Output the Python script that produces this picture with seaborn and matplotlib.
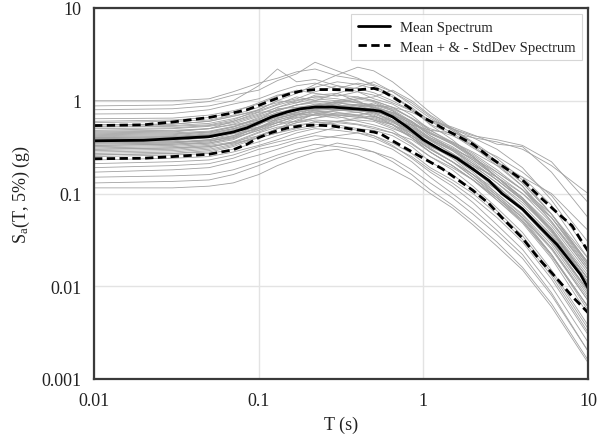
import numpy as np
import pandas as pd
import matplotlib
matplotlib.use("Agg")
import matplotlib.pyplot as plt
import seaborn as sns

# ---------------- data ----------------
T_stat = [0.01, 0.02, 0.03, 0.05, 0.07, 0.085, 0.1, 0.12, 0.15, 0.18, 0.22, 0.28, 0.38, 0.5,
          0.55, 0.65, 0.8, 1.0, 1.3, 1.6, 2.0, 2.5, 3.0, 4.0, 5.0, 6.5, 8.0, 9.0, 10.0]
mean_sa = [0.37, 0.375, 0.39, 0.41, 0.46, 0.51, 0.58, 0.67, 0.76, 0.82, 0.855, 0.855, 0.82, 0.79,
           0.77, 0.67, 0.52, 0.38, 0.29, 0.24, 0.183, 0.138, 0.10, 0.068, 0.045, 0.028, 0.0175, 0.0134, 0.0096]
upper_sa = [0.54, 0.55, 0.59, 0.66, 0.74, 0.80, 0.89, 1.01, 1.17, 1.27, 1.32, 1.32, 1.30, 1.36,
            1.30, 1.10, 0.87, 0.66, 0.51, 0.42, 0.34, 0.25, 0.20, 0.14, 0.095, 0.062, 0.045, 0.032, 0.024]
lower_sa = [0.237, 0.24, 0.25, 0.265, 0.296, 0.34, 0.40, 0.455, 0.51, 0.535, 0.547, 0.535, 0.49, 0.46,
            0.44, 0.37, 0.3, 0.24, 0.185, 0.143, 0.108, 0.078, 0.055, 0.033, 0.02, 0.012, 0.0078, 0.0063, 0.0052]

T_rec = [0.01, 0.03, 0.05, 0.07, 0.1, 0.13, 0.17, 0.22, 0.3, 0.4, 0.5, 0.65, 0.85, 1.1, 1.5, 2.0,
         2.8, 4.0, 6.0, 10.0]
rec01 = [1.00, 1.00, 1.05, 1.25, 1.55, 1.75, 2.05, 2.2, 1.85, 1.7, 1.5, 1.25, 0.95, 0.68, 0.48, 0.33, 0.21, 0.12, 0.05, 0.016]
rec02 = [0.88, 0.9, 0.98, 1.15, 1.3, 1.65, 1.95, 2.6, 2.1, 1.75, 1.45, 1.15, 0.82, 0.55, 0.38, 0.25, 0.15, 0.085, 0.038, 0.011]
rec03 = [0.80, 0.82, 0.88, 1.0, 1.45, 2.2, 1.6, 1.7, 1.45, 1.25, 1.15, 0.95, 0.78, 0.62, 0.5, 0.4, 0.3, 0.19, 0.085, 0.024]
rec04 = [0.72, 0.73, 0.8, 0.92, 1.05, 1.25, 1.45, 1.55, 1.35, 1.55, 1.45, 1.1, 0.82, 0.56, 0.43, 0.31, 0.22, 0.15, 0.075, 0.02]
rec05 = [0.64, 0.65, 0.7, 0.78, 0.92, 1.12, 1.3, 1.2, 1.12, 1.25, 1.05, 0.92, 0.7, 0.48, 0.35, 0.25, 0.15, 0.088, 0.04, 0.011]
rec06 = [0.58, 0.6, 0.62, 0.7, 0.85, 0.95, 1.05, 1.25, 1.45, 1.35, 1.22, 1.0, 0.78, 0.62, 0.52, 0.43, 0.34, 0.32, 0.17, 0.055]
rec07 = [0.55, 0.56, 0.6, 0.68, 0.78, 0.92, 1.1, 1.0, 0.95, 1.05, 1.1, 1.3, 1.0, 0.7, 0.5, 0.36, 0.24, 0.14, 0.06, 0.018]
rec08 = [0.52, 0.53, 0.55, 0.62, 0.8, 1.0, 0.95, 1.15, 1.2, 0.98, 0.85, 0.7, 0.5, 0.33, 0.24, 0.16, 0.095, 0.055, 0.022, 0.0055]
rec09 = [0.48, 0.5, 0.53, 0.58, 0.7, 0.85, 1.0, 1.1, 1.05, 0.95, 0.9, 0.82, 0.65, 0.5, 0.42, 0.33, 0.25, 0.17, 0.095, 0.03]
rec10 = [0.45, 0.46, 0.5, 0.6, 0.75, 0.78, 0.9, 0.95, 0.88, 0.85, 0.95, 0.78, 0.55, 0.38, 0.27, 0.19, 0.12, 0.07, 0.03, 0.009]
rec11 = [0.43, 0.44, 0.46, 0.52, 0.62, 0.82, 0.85, 0.8, 0.95, 1.0, 0.82, 0.62, 0.45, 0.32, 0.25, 0.17, 0.1, 0.058, 0.026, 0.007]
rec12 = [0.41, 0.42, 0.45, 0.5, 0.6, 0.68, 0.75, 0.88, 0.92, 0.8, 0.75, 0.7, 0.58, 0.44, 0.36, 0.28, 0.2, 0.15, 0.1, 0.04]
rec13 = [0.39, 0.4, 0.42, 0.48, 0.55, 0.7, 0.82, 0.78, 0.72, 0.75, 0.7, 0.55, 0.4, 0.28, 0.2, 0.14, 0.085, 0.048, 0.02, 0.005]
rec14 = [0.37, 0.38, 0.4, 0.45, 0.58, 0.62, 0.7, 0.8, 0.85, 0.9, 0.85, 0.75, 0.6, 0.42, 0.3, 0.21, 0.14, 0.085, 0.042, 0.013]
rec15 = [0.36, 0.36, 0.37, 0.4, 0.48, 0.55, 0.6, 0.72, 0.8, 0.75, 0.68, 0.58, 0.48, 0.38, 0.3, 0.24, 0.17, 0.11, 0.06, 0.02]
rec16 = [0.34, 0.35, 0.38, 0.44, 0.5, 0.65, 0.72, 0.7, 0.65, 0.7, 0.75, 0.6, 0.42, 0.3, 0.22, 0.15, 0.09, 0.05, 0.021, 0.006]
rec17 = [0.32, 0.33, 0.35, 0.4, 0.52, 0.58, 0.6, 0.65, 0.7, 0.68, 0.62, 0.55, 0.45, 0.34, 0.25, 0.2, 0.13, 0.08, 0.04, 0.012]
rec18 = [0.30, 0.31, 0.33, 0.36, 0.42, 0.5, 0.62, 0.72, 0.68, 0.6, 0.55, 0.48, 0.35, 0.25, 0.18, 0.12, 0.07, 0.038, 0.015, 0.0038]
rec19 = [0.29, 0.3, 0.32, 0.35, 0.45, 0.52, 0.55, 0.58, 0.6, 0.62, 0.6, 0.5, 0.42, 0.33, 0.27, 0.2, 0.15, 0.1, 0.055, 0.018]
rec20 = [0.27, 0.28, 0.3, 0.34, 0.4, 0.45, 0.52, 0.6, 0.55, 0.5, 0.48, 0.42, 0.32, 0.22, 0.16, 0.11, 0.065, 0.035, 0.014, 0.0035]
rec21 = [0.25, 0.26, 0.27, 0.3, 0.36, 0.42, 0.48, 0.52, 0.58, 0.55, 0.5, 0.45, 0.38, 0.28, 0.2, 0.14, 0.09, 0.052, 0.022, 0.006]
rec22 = [0.23, 0.24, 0.25, 0.28, 0.33, 0.38, 0.45, 0.5, 0.48, 0.45, 0.42, 0.35, 0.27, 0.19, 0.14, 0.1, 0.06, 0.032, 0.013, 0.0032]
rec23 = [0.21, 0.22, 0.23, 0.26, 0.32, 0.36, 0.4, 0.45, 0.52, 0.48, 0.42, 0.33, 0.24, 0.17, 0.12, 0.08, 0.046, 0.025, 0.01, 0.0025]
rec24 = [0.19, 0.2, 0.21, 0.24, 0.3, 0.33, 0.38, 0.42, 0.4, 0.38, 0.36, 0.3, 0.22, 0.15, 0.1, 0.068, 0.04, 0.022, 0.0085, 0.002]
rec25 = [0.17, 0.18, 0.19, 0.22, 0.26, 0.3, 0.35, 0.38, 0.42, 0.45, 0.4, 0.32, 0.25, 0.18, 0.13, 0.09, 0.055, 0.03, 0.012, 0.003]
rec26 = [0.15, 0.155, 0.16, 0.18, 0.22, 0.26, 0.3, 0.34, 0.32, 0.3, 0.28, 0.22, 0.16, 0.11, 0.075, 0.05, 0.03, 0.016, 0.0065, 0.0016]
rec27 = [0.13, 0.135, 0.14, 0.16, 0.2, 0.24, 0.28, 0.3, 0.35, 0.32, 0.28, 0.24, 0.18, 0.13, 0.09, 0.06, 0.036, 0.02, 0.008, 0.002]
rec28 = [0.115, 0.115, 0.12, 0.13, 0.16, 0.2, 0.24, 0.28, 0.3, 0.26, 0.22, 0.18, 0.14, 0.1, 0.07, 0.046, 0.027, 0.015, 0.006, 0.0015]
rec29 = [0.4, 0.41, 0.43, 0.46, 0.52, 0.6, 0.66, 0.72, 0.78, 0.85, 0.9, 0.85, 0.75, 0.6, 0.5, 0.42, 0.38, 0.33, 0.22, 0.08]
rec30 = [0.3, 0.31, 0.32, 0.35, 0.4, 0.45, 0.5, 0.55, 0.6, 0.65, 0.68, 0.6, 0.55, 0.48, 0.45, 0.4, 0.36, 0.3, 0.2, 0.1]
rec31 = [0.6, 0.62, 0.66, 0.75, 0.95, 1.15, 1.25, 1.4, 1.6, 1.5, 1.35, 1.1, 0.85, 0.6, 0.45, 0.32, 0.2, 0.12, 0.055, 0.016]
rec32 = [0.47, 0.48, 0.5, 0.56, 0.68, 0.8, 0.9, 1.0, 1.2, 1.4, 1.6, 1.25, 0.9, 0.65, 0.48, 0.35, 0.22, 0.13, 0.06, 0.017]
rec33 = [0.35, 0.36, 0.38, 0.42, 0.5, 0.58, 0.7, 0.85, 1.0, 1.1, 1.0, 0.85, 0.65, 0.48, 0.36, 0.27, 0.18, 0.11, 0.05, 0.015]
rec34 = [0.26, 0.27, 0.29, 0.33, 0.42, 0.5, 0.58, 0.65, 0.75, 0.7, 0.62, 0.52, 0.4, 0.3, 0.22, 0.16, 0.11, 0.07, 0.035, 0.011]
rec35 = [0.55, 0.56, 0.6, 0.68, 0.8, 1.0, 1.2, 1.5, 1.9, 2.3, 2.1, 1.6, 1.1, 0.75, 0.5, 0.35, 0.22, 0.13, 0.06, 0.018]
rec36 = [0.42, 0.43, 0.46, 0.52, 0.66, 0.78, 0.9, 0.98, 0.95, 0.9, 0.86, 0.72, 0.52, 0.37, 0.27, 0.19, 0.12, 0.07, 0.032, 0.009]
rec37 = [0.33, 0.34, 0.36, 0.42, 0.55, 0.68, 0.75, 0.82, 0.8, 0.78, 0.74, 0.62, 0.46, 0.33, 0.25, 0.18, 0.11, 0.065, 0.03, 0.0085]
rec38 = [0.38, 0.39, 0.41, 0.47, 0.6, 0.72, 0.85, 0.9, 0.95, 0.88, 0.8, 0.7, 0.5, 0.38, 0.29, 0.2, 0.13, 0.075, 0.036, 0.011]
rec39 = [0.46, 0.47, 0.5, 0.55, 0.62, 0.75, 0.82, 0.92, 0.88, 0.92, 0.88, 0.74, 0.56, 0.4, 0.3, 0.22, 0.14, 0.085, 0.04, 0.012]
rec40 = [0.31, 0.32, 0.34, 0.38, 0.5, 0.62, 0.7, 0.78, 0.82, 0.8, 0.72, 0.6, 0.44, 0.31, 0.22, 0.16, 0.1, 0.06, 0.028, 0.008]
rec41 = [0.4, 0.41, 0.44, 0.5, 0.6, 0.7, 0.8, 0.84, 0.8, 0.78, 0.76, 0.66, 0.52, 0.4, 0.31, 0.23, 0.15, 0.09, 0.045, 0.014]
rec42 = [0.35, 0.35, 0.37, 0.41, 0.52, 0.64, 0.74, 0.82, 0.9, 0.85, 0.8, 0.68, 0.5, 0.35, 0.26, 0.19, 0.12, 0.07, 0.031, 0.009]
rec43 = [0.5, 0.51, 0.54, 0.6, 0.72, 0.85, 0.95, 1.05, 1.0, 0.95, 0.9, 0.78, 0.58, 0.42, 0.32, 0.23, 0.15, 0.09, 0.042, 0.012]
rec44 = [0.28, 0.29, 0.31, 0.36, 0.46, 0.55, 0.65, 0.7, 0.72, 0.7, 0.66, 0.56, 0.42, 0.3, 0.22, 0.15, 0.095, 0.055, 0.025, 0.007]
rec45 = [0.44, 0.45, 0.47, 0.53, 0.64, 0.74, 0.8, 0.88, 0.98, 1.05, 0.98, 0.8, 0.6, 0.44, 0.34, 0.25, 0.16, 0.1, 0.048, 0.015]
rec46 = [0.36, 0.37, 0.4, 0.46, 0.56, 0.66, 0.72, 0.76, 0.78, 0.82, 0.84, 0.72, 0.54, 0.39, 0.29, 0.21, 0.14, 0.085, 0.04, 0.012]
rec47 = [0.33, 0.34, 0.35, 0.39, 0.48, 0.58, 0.68, 0.75, 0.7, 0.66, 0.64, 0.55, 0.4, 0.28, 0.2, 0.14, 0.085, 0.05, 0.022, 0.006]
rec48 = [0.39, 0.4, 0.43, 0.49, 0.58, 0.7, 0.78, 0.86, 0.84, 0.8, 0.82, 0.75, 0.6, 0.45, 0.35, 0.26, 0.17, 0.11, 0.055, 0.017]
rec49 = [0.53, 0.54, 0.57, 0.64, 0.76, 0.9, 1.02, 1.1, 1.15, 1.1, 1.0, 0.85, 0.64, 0.46, 0.34, 0.24, 0.15, 0.09, 0.04, 0.011]
rec50 = [0.26, 0.27, 0.28, 0.32, 0.4, 0.5, 0.58, 0.62, 0.6, 0.56, 0.52, 0.45, 0.34, 0.25, 0.19, 0.14, 0.09, 0.055, 0.026, 0.0075]

records = [rec01, rec02, rec03, rec04, rec05, rec06, rec07, rec08, rec09, rec10,
           rec11, rec12, rec13, rec14, rec15, rec16, rec17, rec18, rec19, rec20,
           rec21, rec22, rec23, rec24, rec25, rec26, rec27, rec28, rec29, rec30,
           rec31, rec32, rec33, rec34, rec35, rec36, rec37, rec38, rec39, rec40,
           rec41, rec42, rec43, rec44, rec45, rec46, rec47, rec48, rec49, rec50]

x_ticks = [0.01, 0.1, 1, 10]
x_labels = ["0.01", "0.1", "1", "10"]
y_ticks = [0.001, 0.01, 0.1, 1, 10]
y_labels = ["0.001", "0.01", "0.1", "1", "10"]

# ---------------- frames ----------------
rec_df = pd.DataFrame([
    {"T": t, "Sa": v, "rec": i}
    for i, r in enumerate(records) for t, v in zip(T_rec, r)
])
stat_df = pd.DataFrame({"T": T_stat, "mean": mean_sa, "upper": upper_sa, "lower": lower_sa})

# ---------------- style ----------------
sns.set_theme(style="white")
plt.rcParams["font.family"] = ["Liberation Serif", "DejaVu Serif"]
plt.rcParams["mathtext.fontset"] = "custom"
plt.rcParams["mathtext.rm"] = "Liberation Serif"
plt.rcParams["mathtext.it"] = "Liberation Serif:italic"

fig = plt.figure(figsize=(5.97, 4.35), dpi=100)
ax = fig.add_axes([94 / 597, 1 - 380 / 435, (588 - 94) / 597, (380 - 9) / 435])

sns.lineplot(data=rec_df, x="T", y="Sa", units="rec", estimator=None,
             color="#a2a2a2", lw=0.6, ax=ax, legend=False)
sns.lineplot(data=stat_df, x="T", y="mean", color="black", lw=2.0, ax=ax,
             label="Mean Spectrum")
sns.lineplot(data=stat_df, x="T", y="upper", color="black", lw=2.0, ax=ax,
             label="Mean + & - StdDev Spectrum")
sns.lineplot(data=stat_df, x="T", y="lower", color="black", lw=2.0, ax=ax,
             label="_nolegend_")
for ln in ax.get_lines()[-2:]:
    ln.set_linestyle((0, (3, 1.6)))

ax.set_xscale("log")
ax.set_yscale("log")
ax.set_xlim(0.01, 10)
ax.set_ylim(0.001, 10)
ax.set_xticks(x_ticks)
ax.set_xticklabels(x_labels)
ax.set_yticks(y_ticks)
ax.set_yticklabels(y_labels)
ax.minorticks_off()
ax.tick_params(axis="both", length=0, pad=9, labelsize=13, colors="#222222")
ax.grid(True, which="major", color="#e3e3e3", lw=1.0)
ax.set_axisbelow(True)
for sp in ax.spines.values():
    sp.set_color("#3a3a3a")
    sp.set_linewidth(1.6)

ax.set_xlabel("T (s)", fontsize=13, labelpad=5, color="#222222")
ax.set_ylabel(r"S$_{\mathrm{a}}$(T, 5%) (g)", fontsize=13, labelpad=7, color="#222222")

leg = ax.legend(loc="upper right", fontsize=10.5, frameon=True, fancybox=False,
                handlelength=2.2, handletextpad=0.7, borderpad=0.45, labelspacing=0.45,
                borderaxespad=0, bbox_to_anchor=(1 - 6 / 494, 1 - 6 / 371))
leg.get_frame().set_edgecolor("#cccccc")
leg.get_frame().set_linewidth(0.8)
for h in leg.get_lines():
    h.set_linewidth(2.0)

fig.savefig("out.png", dpi=100)
